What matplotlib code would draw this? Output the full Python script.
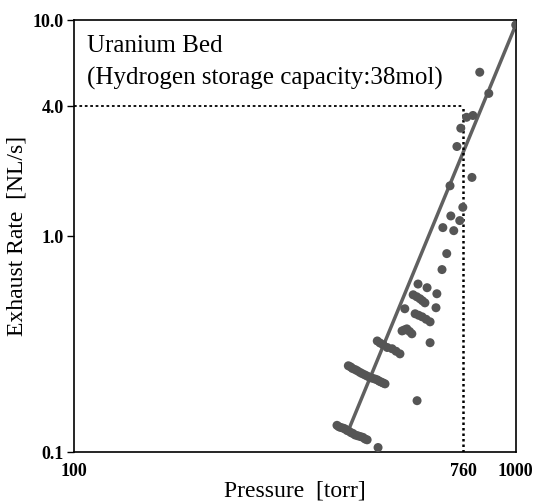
import numpy as np
import matplotlib.pyplot as plt

# exhaust rate vs pressure
pressure = [1000, 829, 869, 800, 774, 751, 736, 796, 710, 759, 713, 747, 684, 724,
            698, 681, 601, 630, 663, 586, 597, 607, 615, 623, 660, 561,
            592, 603, 614, 627, 640, 553, 560, 567, 575, 582, 640,
            486, 493, 501, 512, 525, 536, 547,
            418, 423, 427, 433, 438, 444, 449, 455, 461, 467, 473, 480, 486, 491, 496, 501, 506,
            598,
            394, 398, 402, 407, 411, 415, 419, 424, 428, 433, 439, 445, 451, 456, 461, 488]
rate = [9.5, 5.74, 4.58, 3.62, 3.55, 3.16, 2.60, 1.87, 1.71, 1.36, 1.24, 1.18, 1.095, 1.06,
        0.83, 0.70, 0.60, 0.577, 0.541, 0.535, 0.524, 0.513, 0.502, 0.491, 0.466, 0.461,
        0.437, 0.430, 0.423, 0.412, 0.401, 0.364, 0.368, 0.372, 0.362, 0.353, 0.321,
        0.327, 0.320, 0.314, 0.305, 0.301, 0.293, 0.285,
        0.251, 0.248, 0.244, 0.241, 0.238, 0.234, 0.231, 0.228, 0.225, 0.222, 0.220, 0.218,
        0.216, 0.213, 0.211, 0.209, 0.207,
        0.173,
        0.133, 0.131, 0.130, 0.129, 0.128, 0.126, 0.125, 0.123, 0.122, 0.120, 0.119, 0.118,
        0.117, 0.115, 0.114, 0.105]

# fitted line end points
fit_p = [422, 1000]
fit_r = [0.132, 9.5]

p_atm = 760
r_atm = 4.0

plt.rcParams['font.family'] = ['Liberation Serif', 'DejaVu Serif']

fig = plt.figure(figsize=(5.35, 5.04), dpi=100)
ax = fig.add_axes([0.138, 0.103, 0.826, 0.857])

ax.plot(fit_p, fit_r, color='#606060', lw=2.5, zorder=2)
ax.scatter(pressure, rate, s=42, color='#555555', edgecolors='none', zorder=3)

ax.plot([100, p_atm], [r_atm, r_atm], color='black', lw=1.3, ls=(0, (1.5, 1.5)))
ax.plot([p_atm, p_atm], [0.1, r_atm], color='black', lw=1.8, ls=(0, (1, 1.2)))

ax.set_xscale('log')
ax.set_yscale('log')
ax.set_xlim(100, 1000)
ax.set_ylim(0.1, 10)
ax.minorticks_off()
ax.set_xticks([100, 760, 1000])
ax.set_xticklabels(['100', '760', '1000'], fontweight='bold', fontsize=13)
ax.set_yticks([0.1, 1.0, 4.0, 10.0])
ax.set_yticklabels(['0.1', '1.0', '4.0', '10.0'], fontweight='bold', fontsize=13)
ax.tick_params(axis='x', length=0, pad=8)
ax.tick_params(axis='y', length=5, width=1, pad=2)

ax.set_xlabel('Pressure  [torr]', fontsize=17, labelpad=0)
ax.set_ylabel('Exhaust Rate  [NL/s]', fontsize=17, labelpad=4)

ax.text(0.03, 0.94, 'Uranium Bed', transform=ax.transAxes, fontsize=18, va='center')
ax.text(0.03, 0.865, '(Hydrogen storage capacity:38mol)', transform=ax.transAxes,
        fontsize=18, va='center')

for s in ax.spines.values():
    s.set_linewidth(1.2)

fig.savefig('out.png', dpi=100)
